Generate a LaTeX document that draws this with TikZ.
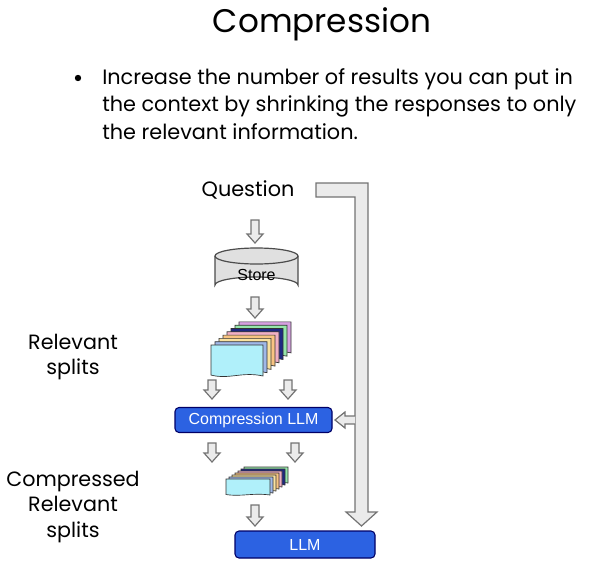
\documentclass[tikz,border=0pt]{standalone}
\usepackage{fontspec}
\setmainfont{Poppins}
\newfontfamily\boxfont{Liberation Sans}
\begin{document}
\begin{tikzpicture}[x=0.75pt,y=-0.75pt,
  harr/.style={fill=black!8,draw=black!55,line width=0.9pt,line join=miter},
  blue box/.style={draw=blue!40!black,fill={rgb,255:red,44;green,98;blue,226},rounded corners=3pt,line width=0.8pt,text=white,font=\boxfont\fontsize{12}{14}\selectfont},
  page/.style={draw=black!80,line width=0.5pt},
  lbl/.style={font=\fontsize{15.5}{19}\selectfont,align=center}]
\useasboundingbox (0,0) rectangle (604,575);
% small hollow down arrow: #1 x, #2 top y, #3 tip y
\newcommand\harrowdown[3]{\draw[harr] (#1-4,#2) -- (#1+4,#2) -- (#1+4,#3-9) -- (#1+8,#3-9) -- (#1,#3) -- (#1-8,#3-9) -- (#1-4,#3-9) -- cycle;}
% page: #1 x, #2 y, #3 w, #4 h, #5 colour
\newcommand\dpage[5]{\draw[page,fill=#5] (#1,#2) -- (#1+#3,#2) -- (#1+#3,#2+#4) .. controls (#1+0.6*#3,#2+#4-0.15*#4) and (#1+0.35*#3,#2+#4+0.12*#4) .. (#1,#2+#4-0.03*#4) -- cycle;}

\node[font=\fontsize{24.5}{30}\selectfont] (title) at (322,24) {Compression};
\fill (78,78) circle (3.2);
\node[anchor=west,align=left,font=\fontsize{15.6}{20.6}\selectfont,inner sep=0] (bullet) at (102,104)
 {Increase the number of results you can put in\\the context by shrinking the responses to only\\the relevant information.};

\node[font=\fontsize{15.6}{19}\selectfont] (q) at (248,190) {Question};

% big bypass arrow
\draw[harr] (316,183) -- (368,183) -- (368,512) -- (377,512) -- (361.5,526) -- (346,512) -- (355,512) -- (355,197) -- (316,197) -- cycle;

% store cylinder
\draw[fill=black!12,draw=black!70,line width=0.9pt] (215,256) -- (215,285) arc[start angle=180,end angle=360,x radius=41.5,y radius=8] -- (298,256);
\draw[fill=black!12,draw=black!70,line width=0.9pt] (256.5,256) ellipse[x radius=41.5,y radius=8];
\node[font=\boxfont\fontsize{12}{14}\selectfont] (store) at (256.5,275) {Store};

\harrowdown{255}{220}{243}
\harrowdown{255}{297}{318}

% big document stack
\foreach \i/\c in {7/{rgb,255:red,214;green,160;blue,224},6/{rgb,255:red,150;green,230;blue,170},5/{rgb,255:red,30;green,40;blue,130},4/{rgb,255:red,240;green,176;blue,196},3/{rgb,255:red,248;green,196;blue,130},2/{rgb,255:red,250;green,226;blue,160},1/{rgb,255:red,160;green,184;blue,232},0/{rgb,255:red,176;green,240;blue,250}}
  {\dpage{211+4*\i}{345-3.3*\i}{52}{31}{\c}}

\node[lbl] (rs) at (73,357) {Relevant\\splits};

\harrowdown{212}{380}{399}
\harrowdown{288}{380}{399}

\node[blue box,minimum width=157pt*0.75,minimum height=25pt*0.75,inner sep=0] (comp) at (253.5,420) {Compression LLM};
% left hollow arrow into compression box
\draw[harr] (355,416) -- (345,416) -- (345,412) -- (335,420) -- (345,428) -- (345,424) -- (355,424);

\harrowdown{212}{443}{462}
\harrowdown{295}{443}{462}

% small stack
\foreach \i/\c in {6/{rgb,255:red,150;green,230;blue,170},5/{rgb,255:red,30;green,40;blue,130},4/{rgb,255:red,240;green,176;blue,196},3/{rgb,255:red,248;green,196;blue,130},2/{rgb,255:red,250;green,226;blue,160},1/{rgb,255:red,160;green,184;blue,232},0/{rgb,255:red,176;green,240;blue,250}}
  {\dpage{226+3*\i}{479-2*\i}{44}{16}{\c}}

\node[lbl] (crs) at (73,507) {Compressed\\Relevant\\splits};

\harrowdown{255}{505}{526}

\node[blue box,minimum width=140pt*0.75,minimum height=27pt*0.75,inner sep=0] (llm) at (305,544.5) {LLM};
\end{tikzpicture}
\end{document}
